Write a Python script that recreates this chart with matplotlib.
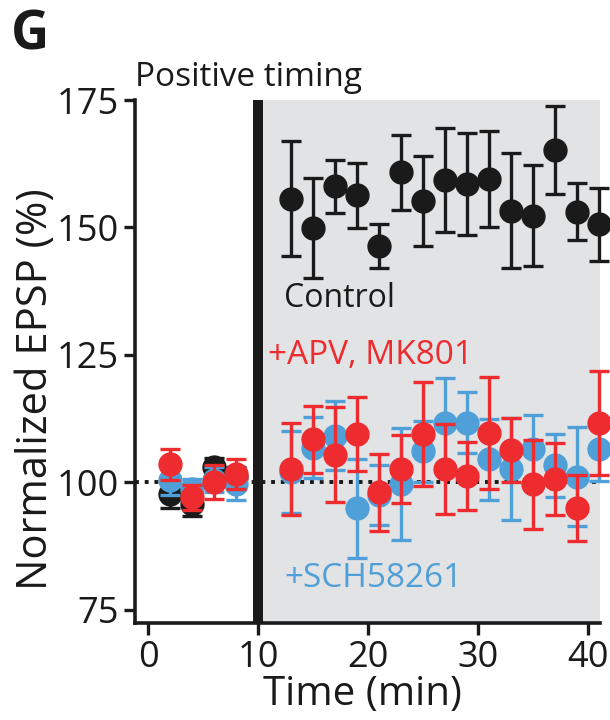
import matplotlib
matplotlib.use("Agg")
import matplotlib.pyplot as plt

plt.rcParams['font.family'] = ['Open Sans', 'DejaVu Sans']

# ---------------- data ----------------
base_t = [2, 4, 6, 8]
post_t = [13, 15, 17, 19, 21, 23, 25, 27, 29, 31, 33, 35, 37, 39, 41]

ctrl_base = [97.6, 95.7, 103.0, 101.0]
ctrl_base_err = [2.6, 2.4, 1.8, 2.0]
ctrl_post = [155.6, 149.9, 158.1, 156.3, 146.3, 160.8, 155.2, 159.4, 158.5,
             159.5, 153.3, 152.3, 165.2, 153.1, 150.6]
ctrl_post_err = [11.3, 9.9, 5.2, 6.4, 4.3, 7.3, 8.9, 10.2, 10.0, 9.4, 11.3,
                 9.9, 8.6, 5.6, 7.2]

sch_base = [100.5, 98.6, 100.5, 99.6]
sch_base_err = [3.0, 2.0, 2.5, 3.0]
sch_post = [102.0, 106.8, 109.1, 94.9, 97.5, 99.6, 106.1, 111.7, 111.7,
            104.5, 102.6, 106.6, 103.3, 101.1, 106.5]
sch_post_err = [8.0, 6.0, 6.8, 9.7, 5.9, 11.0, 6.0, 8.7, 6.0, 8.0, 10.0,
                6.5, 6.2, 9.7, 6.3]

apv_base = [103.5, 97.0, 100.0, 101.6]
apv_base_err = [3.0, 2.5, 3.3, 3.0]
apv_post = [102.6, 108.4, 105.4, 109.4, 98.0, 102.6, 109.4, 102.6, 101.2,
            109.6, 106.3, 99.6, 100.6, 95.0, 111.7]
apv_post_err = [9.0, 6.6, 9.3, 7.3, 7.5, 6.7, 10.2, 8.9, 6.6, 11.0, 6.3,
                8.7, 7.0, 6.5, 10.2]

x_ticks = [0, 10, 20, 30, 40]
y_ticks = [75, 100, 125, 150, 175]

BLACK = '#1a1a1a'
RED = '#ee2b2e'
BLUE = '#4f9fd8'
GRAY = '#e2e3e5'

# ---------------- figure ----------------
fig = plt.figure(figsize=(6.1, 7.2), dpi=100)
ax = fig.add_axes([0.221, 0.135, 0.763, 0.726])

xmin, xmax = -1.2, 41.1
ymin, ymax = 72.4, 175
ax.set_xlim(xmin, xmax)
ax.set_ylim(ymin, ymax)

ax.axvspan(10, xmax, color=GRAY, zorder=0, lw=0)
ax.axvline(10, color=BLACK, lw=7.2, zorder=1)
ax.axhline(100, color=BLACK, lw=2.8, ls=(0, (1, 1.5)), zorder=2)

def series(t, y, e, c, z):
    ax.errorbar(t, y, yerr=e, fmt='o', color=c, ms=16.5, mec=c, ecolor=c,
                elinewidth=2.4, capsize=7.5, capthick=2.4, zorder=z,
                clip_on=False)

series(base_t, ctrl_base, ctrl_base_err, BLACK, 3)
series(post_t, ctrl_post, ctrl_post_err, BLACK, 3)
series(base_t, sch_base, sch_base_err, BLUE, 4)
series(post_t, sch_post, sch_post_err, BLUE, 4)
series(base_t, apv_base, apv_base_err, RED, 5)
series(post_t, apv_post, apv_post_err, RED, 5)

for s in ['top', 'right']:
    ax.spines[s].set_visible(False)
for s in ['left', 'bottom']:
    ax.spines[s].set_linewidth(2.6)
    ax.spines[s].set_color(BLACK)

ax.set_xticks(x_ticks)
ax.set_yticks(y_ticks)
ax.tick_params(axis='x', length=8.6, width=2.4, labelsize=26, pad=4,
               colors=BLACK)
ax.tick_params(axis='y', length=8, width=2.4, labelsize=26, pad=3.5,
               colors=BLACK)

# axis titles
fig.text((135 + 227) / 610, 1 - 705 / 720, 'Time (min)', fontsize=29,
         color=BLACK, ha='center', va='baseline')
ax.set_ylabel('Normalized EPSP (%)', fontsize=30, color=BLACK)
ax.yaxis.set_label_coords(-0.213, 0.447)
ax.yaxis.label.set_va('center')

ax.text(12.4, 136.0, 'Control', fontsize=23, color=BLACK, ha='left',
        va='center')
ax.text(10.9, 124.8, '+APV, MK801', fontsize=24, color=RED, ha='left',
        va='center')
ax.text(12.4, 81.0, '+SCH58261', fontsize=24, color=BLUE, ha='left',
        va='center')

fig.text(0.018, 0.95, 'G', fontsize=38, fontweight='bold', color=BLACK,
         ha='left', va='center')
fig.text(0.222, 0.892, 'Positive timing', fontsize=24, color=BLACK,
         ha='left', va='center')

fig.savefig('out.png', dpi=100)
